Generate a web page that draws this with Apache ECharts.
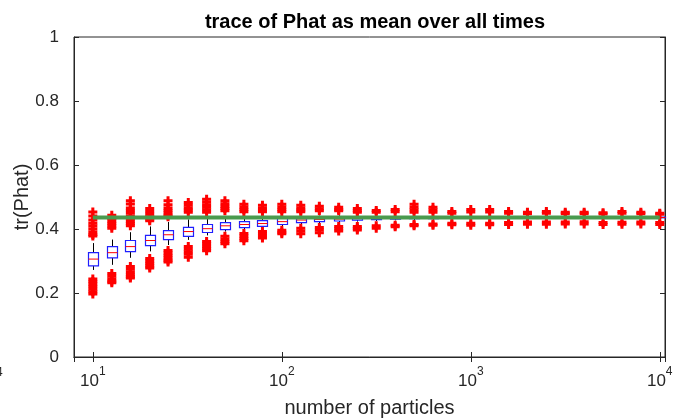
<!DOCTYPE html>
<html><head><meta charset="utf-8">
<script src="https://cdn.jsdelivr.net/npm/echarts@6.0.0/dist/echarts.min.js"></script>
<style>html,body{margin:0;padding:0;background:#fff}#c{width:676px;height:418px}</style>
</head><body><div id="c"></div>
<script>
// number of particles (box positions)
const particles = [10, 12.6, 15.8, 20, 25, 32, 40, 50, 63, 79, 100, 126, 158, 200, 251, 316, 398, 501, 631, 794, 1000, 1259, 1585, 1995, 2512, 3162, 3981, 5012, 6310, 7943, 10000];
const whiskerLow  = [0.272,0.288,0.310,0.330,0.350,0.366,0.380,0.392,0.398,0.404,0.408,0.414,0.418,0.420,0.423,0.425,0.427,0.428,0.429,0.430,0.430,0.431,0.431,0.432,0.432,0.432,0.432,0.433,0.433,0.433,0.433];
const q1          = [0.285,0.310,0.329,0.348,0.367,0.377,0.389,0.398,0.404,0.408,0.414,0.420,0.423,0.425,0.428,0.429,0.431,0.432,0.432,0.433,0.433,0.434,0.434,0.434,0.434,0.434,0.435,0.435,0.435,0.435,0.435];
const median      = [0.306,0.326,0.345,0.364,0.382,0.392,0.401,0.410,0.414,0.417,0.423,0.428,0.430,0.431,0.433,0.433,0.434,0.435,0.435,0.435,0.435,0.436,0.436,0.436,0.436,0.436,0.436,0.436,0.436,0.436,0.436];
const q3          = [0.326,0.345,0.364,0.380,0.395,0.405,0.414,0.420,0.423,0.426,0.433,0.436,0.436,0.437,0.438,0.437,0.438,0.438,0.438,0.438,0.438,0.438,0.438,0.438,0.438,0.438,0.437,0.437,0.437,0.437,0.437];
const whiskerHigh = [0.356,0.367,0.390,0.408,0.422,0.430,0.435,0.440,0.440,0.440,0.440,0.442,0.442,0.443,0.443,0.442,0.442,0.442,0.442,0.442,0.441,0.441,0.441,0.441,0.441,0.440,0.440,0.440,0.440,0.440,0.440];
const outliersHigh = [
  [0.453,0.441,0.428,0.418,0.409,0.400,0.391,0.383,0.378],
  [0.443,0.433,0.425,0.417,0.409,0.402],
  [0.488,0.478,0.466,0.458,0.449,0.440,0.432,0.424,0.417,0.410],
  [0.464,0.455,0.446,0.438,0.431,0.426],
  [0.488,0.476,0.466,0.458,0.450,0.443,0.438],
  [0.483,0.474,0.466,0.459,0.452],
  [0.493,0.484,0.476,0.468,0.460,0.452],
  [0.488,0.479,0.471,0.464,0.457],
  [0.477,0.469,0.461,0.454],
  [0.474,0.466,0.459,0.454],
  [0.477,0.469,0.461,0.454],
  [0.474,0.466,0.459,0.454],
  [0.471,0.463,0.457],
  [0.468,0.461,0.457],
  [0.464,0.457,0.452],
  [0.458,0.452],
  [0.461,0.454],
  [0.477,0.468,0.460,0.452],
  [0.468,0.460,0.452],
  [0.455,0.449],
  [0.461,0.453],
  [0.461,0.453],
  [0.455,0.449],
  [0.452,0.448],
  [0.455,0.449],
  [0.452,0.448],
  [0.452,0.448],
  [0.451,0.447],
  [0.455,0.449],
  [0.452,0.448],
  [0.449,0.446]
];
const outliersLow = [
  [0.244,0.236,0.228,0.220,0.212,0.204,0.197],
  [0.261,0.252,0.244,0.237,0.232],
  [0.283,0.274,0.266,0.258,0.251,0.247],
  [0.308,0.300,0.292,0.284,0.278],
  [0.333,0.325,0.317,0.309,0.302,0.297],
  [0.345,0.337,0.329,0.321,0.312],
  [0.361,0.354,0.346,0.339,0.332],
  [0.377,0.369,0.361,0.354],
  [0.386,0.378,0.370,0.363],
  [0.392,0.385,0.378,0.372],
  [0.396,0.390,0.385],
  [0.402,0.394,0.385],
  [0.405,0.397,0.388],
  [0.408,0.401,0.394],
  [0.408,0.402,0.397],
  [0.410,0.402],
  [0.412,0.407],
  [0.414,0.410],
  [0.416,0.412],
  [0.418,0.413],
  [0.418,0.412],
  [0.418,0.413],
  [0.420,0.414],
  [0.422,0.415],
  [0.422,0.415],
  [0.422,0.416],
  [0.423,0.416],
  [0.420,0.414],
  [0.421,0.415],
  [0.422,0.416],
  [0.420,0.414]
];
const referenceValue = 0.436;
const referenceRange = [10, 10000];
const xRange = [7.95, 10660];
const yTicks = [0, 0.2, 0.4, 0.6, 0.8, 1];

const FONT = 'Liberation Sans, Arial, Helvetica, sans-serif';
const AX = '#262626';

const boxData = particles.map((n, i) => [n, whiskerLow[i], q1[i], median[i], q3[i], whiskerHigh[i]]);
const outData = [];
particles.forEach((n, i) => {
  outliersHigh[i].forEach(v => outData.push([n, v]));
  outliersLow[i].forEach(v => outData.push([n, v]));
});

const chart = echarts.init(document.getElementById('c'), null, {renderer: 'canvas'});
const hw = 5;
chart.setOption({
  animation: false,
  backgroundColor: '#fff',
  title: {
    text: 'trace of Phat as mean over all times',
    left: 370, top: 7, textAlign: 'center',
    textStyle: {fontFamily: FONT, fontSize: 20, fontWeight: 'bold', color: '#000'}
  },
  grid: {left: 74, right: 11, top: 37, bottom: 61, show: true, borderColor: AX, borderWidth: 1,
    backgroundColor: 'transparent', containLabel: false, outerBoundsMode: 'none'},
  xAxis: [{
    type: 'log', logBase: 10, min: xRange[0], max: xRange[1],
    position: 'bottom',
    name: 'number of particles', nameLocation: 'middle', nameGap: 41, nameMoveOverlap: false,
    nameTextStyle: {fontFamily: FONT, fontSize: 20, color: AX},
    axisLine: {show: true, lineStyle: {color: AX, width: 1}},
    axisTick: {show: true, inside: true, length: 5, lineStyle: {color: AX}},
    minorTick: {show: false},
    splitLine: {show: false},
    axisLabel: {
      showMinLabel: false, showMaxLabel: false, margin: 9,
      formatter: v => '{b|10}{s|' + Math.round(Math.log10(v)) + '}',
      rich: {
        b: {fontFamily: FONT, fontSize: 17, color: AX, lineHeight: 24, verticalAlign: 'bottom'},
        s: {fontFamily: FONT, fontSize: 12, color: AX, lineHeight: 24, verticalAlign: 'top'}
      }
    }
  }, {
    type: 'log', logBase: 10, min: xRange[0], max: xRange[1], position: 'top',
    axisLine: {show: true, lineStyle: {color: AX}},
    axisTick: {show: true, inside: true, length: 5, lineStyle: {color: AX}},
    axisLabel: {show: false}, splitLine: {show: false}, minorTick: {show: false}
  }],
  yAxis: [{
    type: 'value', min: yTicks[0], max: yTicks[yTicks.length - 1], interval: 0.2,
    name: 'tr(Phat)', nameLocation: 'middle', nameGap: 42, nameRotate: 90, nameMoveOverlap: false,
    nameTextStyle: {fontFamily: FONT, fontSize: 20, color: AX},
    axisLine: {show: true, lineStyle: {color: AX}},
    axisTick: {show: true, inside: true, length: 5, lineStyle: {color: AX}},
    splitLine: {show: false},
    axisLabel: {fontFamily: FONT, fontSize: 17, color: AX, margin: 15,
      formatter: v => String(parseFloat(v.toFixed(1)))}
  }, {
    type: 'value', min: 0, max: 1, interval: 0.2, position: 'right',
    axisLine: {show: true, lineStyle: {color: AX}},
    axisTick: {show: true, inside: true, length: 5, lineStyle: {color: AX}},
    axisLabel: {show: false}, splitLine: {show: false}
  }],
  series: [{
    type: 'custom', xAxisIndex: 0, yAxisIndex: 0, z: 2,
    data: boxData,
    encode: {x: 0, y: [1, 2, 3, 4, 5]},
    renderItem: function (params, api) {
      const x = api.value(0);
      const pLo = api.coord([x, api.value(1)]);
      const pQ1 = api.coord([x, api.value(2)]);
      const pMd = api.coord([x, api.value(3)]);
      const pQ3 = api.coord([x, api.value(4)]);
      const pHi = api.coord([x, api.value(5)]);
      const cx = Math.round(pQ1[0]) + 0.5;
      return {
        type: 'group',
        children: [
          {type: 'line', shape: {x1: cx, y1: pHi[1], x2: cx, y2: pQ3[1]}, style: {stroke: '#000', lineWidth: 1}},
          {type: 'line', shape: {x1: cx, y1: pQ1[1], x2: cx, y2: pLo[1]}, style: {stroke: '#000', lineWidth: 1}},
          {type: 'rect', shape: {x: cx - hw, y: pQ3[1], width: 2 * hw, height: pQ1[1] - pQ3[1]},
            style: {fill: '#fff', stroke: '#1f1fff', lineWidth: 1.2}},
          {type: 'line', shape: {x1: cx - hw, y1: pMd[1], x2: cx + hw, y2: pMd[1]}, style: {stroke: '#ff0000', lineWidth: 1}}
        ]
      };
    }
  }, {
    type: 'scatter', xAxisIndex: 0, yAxisIndex: 0, z: 3,
    data: outData,
    symbol: 'path://M3,0H6V3H9V6H6V9H3V6H0V3H3Z',
    symbolSize: [9, 9],
    itemStyle: {color: '#ff0000', opacity: 1}
  }, {
    type: 'line', xAxisIndex: 0, yAxisIndex: 0, z: 5,
    data: referenceRange.map(n => [n, referenceValue]),
    symbol: 'none',
    lineStyle: {color: '#4a9a4e', width: 4}
  }],
  graphic: [{
    type: 'text', left: -4, top: 367,
    style: {text: '4', fontFamily: FONT, fontSize: 12, fill: AX}
  }]
});
</script>
</body></html>
